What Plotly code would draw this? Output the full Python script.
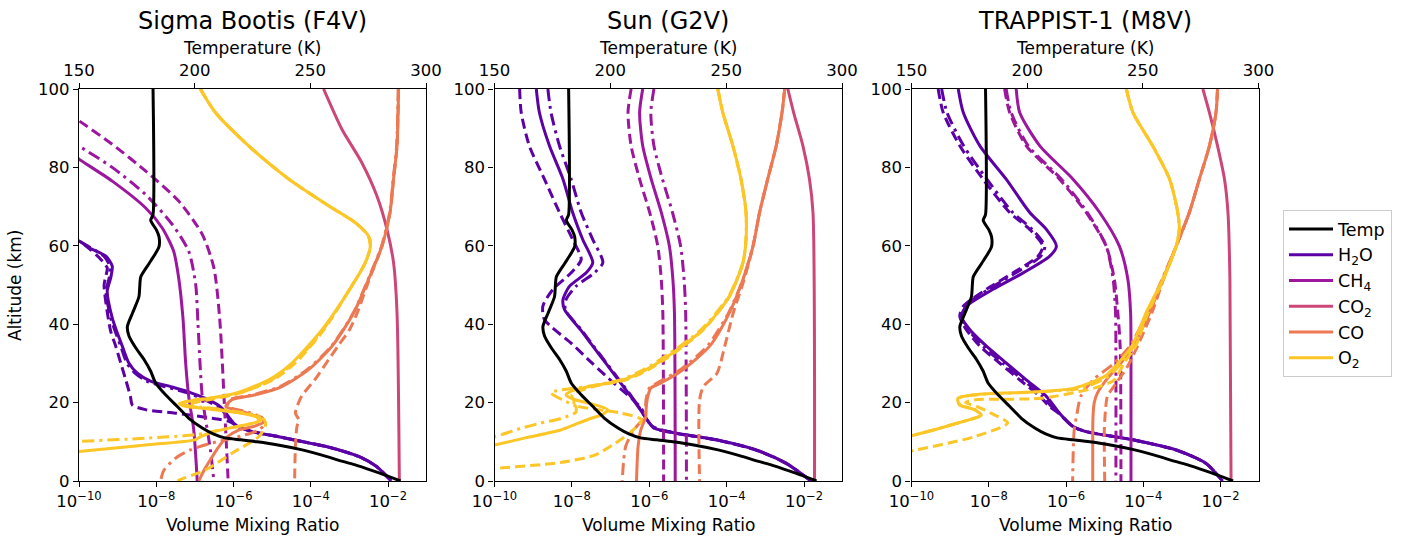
import plotly.graph_objects as go

# ---------------- data (altitude km, log10 volume mixing ratio) ----------------
TEMP_ALT = [100, 68, 66.5, 64, 62.3, 59.8, 57.5, 55.5, 52.1, 47, 42.8, 39.4, 37, 34, 31, 28, 25, 22, 19,
            16, 13.5, 12, 11, 10.5, 10, 9.2, 8, 6.6, 5, 4, 2, 0]
TEMP_K = [182.0, 182.0, 181.0, 183.5, 184.6, 184.6, 182.5, 180.3, 176.7, 175.9, 173.1, 170.9, 171.6, 174.5,
          178.1, 181.0, 183.1, 187.4, 192.5, 197.5, 203.3, 208, 213, 220, 227, 236, 246, 255, 264, 270, 280, 289]

# Panel 1 : Sigma Bootis (F4V)
P1_H2O_ALT = [62.5, 61.2, 59.5, 57.4, 54.8, 51.8, 48.4, 41.6, 37.8, 34.4, 30.1, 27.5, 25.5, 24, 22.5, 20.5,
              18.6, 16, 14.3, 12.6, 11.3, 10, 8.8, 6.2, 3.7, 0]
P1_H2O_SOLID = [-10.6, -10.0, -9.74, -9.31, -9.14, -9.18, -9.27, -9.14, -9.01, -8.88, -8.71, -8.49, -8.15,
                -7.6, -7.1, -6.6, -6.3, -6.1, -5.95, -5.52, -4.83, -4.2, -3.6, -2.75, -2.3, -1.92]
P1_H2O_DASHDOT = [-10.6, -10.0, -9.70, -9.36, -9.20, -9.22, -9.30, -9.18, -9.05, -8.92, -8.76, -8.55, -8.25,
                  -7.75, -7.2, -6.7, -6.35, -6.12, -5.96, -5.52, -4.83, -4.2, -3.6, -2.75, -2.3, -1.92]
P1_H2O_DASH_ALT = [62.5, 61.2, 59, 57, 54.4, 52.5, 50.1, 45.9, 38.2, 34.4, 30.1, 25.8, 21.6, 19.4, 18.2,
                   17.3, 16.0, 15.2, 13.9, 12.6, 11.3, 10, 8.8, 6.2, 3.7, 0]
P1_H2O_DASH = [-10.6, -10.0, -9.7, -9.48, -9.27, -9.3, -9.35, -9.31, -9.18, -9.05, -8.92, -8.79, -8.67,
               -8.62, -8.28, -7.5, -6.55, -6.12, -5.87, -5.52, -4.83, -4.2, -3.6, -2.75, -2.3, -1.92]

P1_CH4_SOLID_ALT = [84, 82.1, 76.5, 69.7, 64.6, 58.6, 51.8, 41.6, 30.1, 21.5, 13, 0]
P1_CH4_SOLID = [-10.27, -10.0, -9.14, -8.28, -7.85, -7.55, -7.42, -7.31, -7.24, -7.16, -7.03, -6.94]
P1_CH4_DASHDOT_ALT = [87.5, 85.5, 80, 73.1, 65.5, 58.6, 50.1, 39.9, 21.5, 8, 0]
P1_CH4_DASHDOT = [-10.27, -10.0, -9.14, -8.28, -7.59, -7.16, -6.98, -6.92, -6.81, -6.6, -6.51]
P1_CH4_DASH_ALT = [94, 91.9, 85.9, 79.1, 71.4, 62.9, 54.4, 41.6, 18, 0]
P1_CH4_DASH = [-10.3, -10.0, -9.14, -8.28, -7.42, -6.81, -6.51, -6.36, -6.23, -6.14]

P1_CO2_ALT = [100, 89.8, 81.2, 72.7, 64.2, 55.7, 42.9, 0]
P1_CO2 = [-3.67, -3.20, -2.68, -2.29, -2.03, -1.86, -1.77, -1.71]

P1_CO_SOLID_ALT = [100, 85.5, 77, 68.5, 59.9, 51.4, 42.9, 34.4, 28.4, 24.1, 22, 20.7, 19, 17.5, 16, 15, 14,
                   13, 11, 8.5, 6.2, 3, 0]
P1_CO_SOLID = [-1.73, -1.77, -1.86, -1.95, -2.16, -2.51, -2.89, -3.45, -4.06, -4.75, -5.43, -6.05, -6.2,
               -5.7, -5.3, -5.22, -5.45, -5.87, -6.2, -6.4, -6.55, -6.75, -6.9]
P1_CO_DASHDOT_ALT = [100, 85.5, 77, 68.5, 59.9, 51.4, 42.9, 34.4, 28.4, 24.1, 22, 20.7, 19, 17.5, 16, 14.5,
                     13, 11.5, 9.6, 8, 6.2, 2.8, 0]
P1_CO_DASHDOT = [-1.74, -1.78, -1.87, -1.96, -2.17, -2.52, -2.9, -3.47, -4.1, -4.8, -5.5, -6.1, -6.15, -5.6,
                 -5.25, -5.2, -5.35, -5.8, -6.6, -7.1, -7.45, -7.8, -7.89]
P1_CO_DASH_ALT = [100, 85.5, 77, 68.5, 59.9, 51.4, 42.9, 38.6, 34.4, 30.1, 25.8, 21.6, 17.3, 15.6, 13.9,
                  8.8, 0]
P1_CO_DASH = [-1.73, -1.77, -1.86, -1.95, -2.16, -2.49, -2.8, -3.0, -3.3, -3.6, -3.9, -4.24, -4.4, -4.31,
              -4.36, -4.4, -4.42]

P1_O2_SOLID_ALT = [100, 94, 85.5, 77, 70.2, 65.9, 62.5, 59.9, 55.7, 47.1, 38.6, 30.1, 25.8, 22.4, 21, 20.3,
                   19.8, 19.2, 18.3, 17.3, 16.3, 15.3, 14.3, 13.3, 12.3, 11.3, 10.5, 9.2, 8.3, 7.5, 6.8]
P1_O2_SOLID = [-6.86, -6.47, -5.61, -4.57, -3.54, -2.85, -2.51, -2.46, -2.59, -3.11, -3.71, -4.49, -5.09,
               -5.95, -6.7, -7.2, -7.4, -7.3, -6.6, -5.8, -5.4, -5.35, -5.7, -6.2, -6.6, -6.85, -7.0, -8.28,
               -9.2, -10.0, -10.8]
P1_O2_DASHDOT_ALT = [100, 94, 85.5, 77, 70.2, 65.9, 62.5, 59.9, 55.7, 47.1, 38.6, 30.1, 25.8, 22.4, 21.2,
                     20.5, 20, 19.3, 18.5, 17.5, 16.5, 15.5, 14.5, 13.5, 12.5, 11.8, 10.9, 10.1, 9.5]
P1_O2_DASHDOT = [-6.86, -6.47, -5.61, -4.57, -3.54, -2.85, -2.51, -2.46, -2.59, -3.11, -3.68, -4.44, -5.02,
                 -5.85, -6.6, -7.1, -7.35, -7.2, -6.5, -5.8, -5.35, -5.3, -5.6, -6.1, -6.6, -6.99, -8.28,
                 -10.0, -10.8]
P1_O2_DASH_ALT = [100, 94, 85.5, 77, 70.2, 65.9, 62.5, 59.9, 55.7, 47.1, 38.6, 30.1, 25.8, 22.4, 21, 20,
                  19.2, 18.5, 17.5, 16.5, 15.5, 13.9, 11.3, 7.1, 2.8, 0.2, 0]
P1_O2_DASH = [-6.86, -6.47, -5.61, -4.57, -3.54, -2.85, -2.51, -2.46, -2.59, -3.11, -3.66, -4.4, -4.98,
              -5.85, -6.5, -7.0, -7.2, -6.6, -5.9, -5.4, -5.2, -5.18, -5.35, -6.04, -6.73, -7.42, -7.45]

# Panel 2 : Sun (G2V)
P2_H2O_ALT = [100, 94, 85.5, 77, 68.5, 61.6, 55.7, 53.1, 49.7, 46.3, 43.7, 38.6, 34.4, 30, 25.8, 21.6, 18,
              15.5, 13.5, 12.2, 10.5, 7.9, 4.5, 0]
P2_H2O_SOLID = [-8.92, -8.84, -8.58, -8.23, -7.98, -7.72, -7.46, -7.63, -8.06, -8.23, -8.19, -7.78, -7.46,
                -7.12, -6.8, -6.48, -6.22, -6.05, -5.88, -5.31, -4.27, -3.24, -2.46, -1.82]
P2_H2O_DASHDOT = [-8.62, -8.54, -8.32, -8.02, -7.76, -7.46, -7.20, -7.42, -7.89, -8.15, -8.17, -7.76, -7.44,
                  -7.10, -6.78, -6.46, -6.21, -6.05, -5.88, -5.31, -4.27, -3.24, -2.46, -1.82]
P2_H2O_DASH_ALT = [100, 94, 85.5, 77, 68.5, 61.6, 56.5, 53.1, 48.9, 44.6, 41.2, 35, 30, 25, 21, 18.6, 16,
                   13.9, 12.2, 10.5, 7.9, 4.5, 0]
P2_H2O_DASH = [-9.35, -9.31, -9.10, -8.71, -8.32, -7.98, -7.76, -8.02, -8.49, -8.75, -8.71, -8.0, -7.47,
               -6.92, -6.45, -6.21, -6.08, -5.91, -5.31, -4.27, -3.24, -2.46, -1.82]

P2_CH4_ALT = [100, 94, 85.5, 77, 68.5, 59.9, 51.4, 42.9, 0]
P2_CH4_SOLID = [-6.17, -6.25, -6.17, -5.95, -5.69, -5.48, -5.39, -5.35, -5.33]
P2_CH4_DASHDOT = [-5.88, -5.96, -5.88, -5.66, -5.40, -5.19, -5.10, -5.06, -5.04]
P2_CH4_DASH = [-6.47, -6.55, -6.47, -6.25, -5.99, -5.78, -5.69, -5.65, -5.63]

P2_CO2_ALT = [100, 94, 85.5, 77, 68.5, 0]
P2_CO2 = [-2.42, -2.27, -2.03, -1.86, -1.77, -1.73]

P2_CO_ALT = [100, 94, 85.5, 77, 68.5, 59.9, 51.4, 42.9, 34.4, 28.4, 25, 23.7, 21, 18.5, 16.4, 13, 8.8, 0]
P2_CO_SOLID = [-2.5, -2.57, -2.72, -2.94, -3.15, -3.32, -3.58, -3.93, -4.44, -5.13, -5.7, -5.96, -6.05,
               -6.08, -6.09, -6.22, -6.29, -6.33]
P2_CO_DASHDOT = [-2.5, -2.57, -2.72, -2.94, -3.15, -3.32, -3.58, -3.95, -4.5, -5.2, -5.8, -6.0, -6.08,
                 -6.1, -6.12, -6.40, -6.61, -6.70]
P2_CO_DASH_ALT = [100, 94, 85.5, 77, 68.5, 59.9, 51.4, 42.9, 34.4, 27.5, 24.1, 20.7, 0]
P2_CO_DASH = [-2.5, -2.57, -2.72, -2.94, -3.15, -3.32, -3.55, -3.83, -4.05, -4.25, -4.6, -4.70, -4.70]

P2_O2_SOLID_ALT = [100, 94, 85.5, 77, 68.5, 61.6, 55.7, 47.1, 38.6, 32.7, 28.4, 25.8, 24.1, 23, 22, 21,
                   19.5, 18.2, 17, 16, 14.5, 13, 11, 9.2, 8]
P2_O2_SOLID = [-4.23, -4.10, -3.84, -3.63, -3.50, -3.50, -3.58, -3.93, -4.62, -5.39, -6.08, -6.68, -7.55,
               -8.0, -8.15, -8.0, -7.43, -7.08, -7.2, -7.5, -7.9, -8.29, -9.2, -10.0, -10.6]
P2_O2_DASHDOT_ALT = [100, 94, 85.5, 77, 68.5, 61.6, 55.7, 47.1, 38.6, 32.7, 28.4, 25.8, 24.1, 23.2, 22.5,
                     21.5, 20.5, 19, 17.5, 16, 14.7, 13.5, 11.3, 10.5]
P2_O2_DASHDOT = [-4.23, -4.10, -3.84, -3.63, -3.50, -3.50, -3.58, -3.95, -4.66, -5.45, -6.15, -6.75, -7.6,
                 -8.3, -8.55, -8.4, -8.2, -7.9, -7.9, -8.27, -8.84, -9.3, -10.0, -10.5]
P2_O2_DASH_ALT = [100, 94, 85.5, 77, 68.5, 61.6, 55.7, 47.1, 38.6, 32.7, 28.4, 25.8, 24.1, 22, 20.5, 19.4,
                  17.3, 15.6, 12.2, 9.5, 6.6, 4.7, 3.2, 2.8]
P2_O2_DASH = [-4.23, -4.10, -3.84, -3.63, -3.50, -3.50, -3.58, -3.93, -4.6, -5.35, -6.02, -6.6, -7.45,
              -8.0, -7.95, -7.93, -6.72, -6.2, -6.51, -6.9, -7.41, -8.3, -10.0, -10.5]

# Panel 3 : TRAPPIST-1 (M8V)
P3_H2O_SOLID_ALT = [100, 94, 85.5, 77, 68.5, 64.2, 59.9, 57.3, 53.1, 48.9, 44.6, 42, 38.6, 34.4, 30.1,
                    25.8, 21.6, 17.3, 13.9, 12.6, 10.5, 7.9, 4.5, 0]
P3_H2O_SOLID = [-8.79, -8.66, -8.23, -7.55, -6.94, -6.51, -6.25, -6.43, -7.11, -7.89, -8.58, -8.71, -8.49,
                -8.06, -7.55, -7.03, -6.51, -6.17, -5.82, -5.48, -4.27, -3.15, -2.38, -1.95]
P3_H2O_DASH_ALT = [100, 94, 85.5, 77, 68.5, 64.2, 59.9, 57.3, 53.1, 48.9, 44.6, 42, 38.6, 34.4, 30.1, 25.8,
                   21.6, 19, 17.3, 13.9, 12.6, 10.5, 7.9, 4.5, 0]
P3_H2O_DASH = [-9.31, -9.18, -8.75, -8.15, -7.46, -6.94, -6.60, -6.73, -7.37, -8.06, -8.66, -8.75, -8.58,
               -8.23, -7.72, -7.20, -6.68, -6.43, -6.2, -5.82, -5.48, -4.27, -3.15, -2.38, -1.95]
P3_H2O_DASHDOT = [-9.22, -9.08, -8.65, -8.05, -7.38, -6.88, -6.55, -6.66, -7.3, -8.0, -8.62, -8.72, -8.53,
                  -8.15, -7.64, -7.12, -6.6, -6.38, -6.18, -5.82, -5.48, -4.27, -3.15, -2.38, -1.95]

P3_CH4_ALT = [100, 94, 85.5, 77, 68.5, 59.9, 51.4, 42.9, 34.4, 0]
P3_CH4_SOLID = [-7.29, -7.2, -6.68, -5.82, -5.13, -4.62, -4.40, -4.33, -4.32, -4.32]
P3_CH4_DASHDOT = [-7.55, -7.42, -6.98, -6.12, -5.45, -4.96, -4.78, -4.72, -4.71, -4.71]
P3_CH4_DASH = [-7.59, -7.46, -7.03, -6.17, -5.48, -4.96, -4.75, -4.66, -4.6, -4.58]

P3_CO2_ALT = [100, 94, 85.5, 77, 68.5, 51.4, 0]
P3_CO2 = [-2.46, -2.29, -2.08, -1.90, -1.81, -1.76, -1.73]

P3_CO_SOLID_ALT = [100, 94, 85.5, 77, 68.5, 59.9, 51.4, 42.9, 34.4, 30.1, 25.8, 22.4, 20, 17, 13, 0]
P3_CO_SOLID = [-2.08, -2.12, -2.29, -2.55, -2.81, -3.15, -3.50, -3.84, -4.27, -4.58, -4.96, -5.19, -5.27,
               -5.3, -5.31, -5.31]
P3_CO_DASHDOT_ALT = [100, 94, 85.5, 77, 68.5, 59.9, 51.4, 42.9, 34.4, 30.1, 25.8, 21.6, 17, 13, 0]
P3_CO_DASHDOT = [-2.08, -2.12, -2.29, -2.55, -2.81, -3.15, -3.52, -3.9, -4.35, -4.75, -5.3, -5.62, -5.72,
                 -5.79, -5.83]
P3_CO_DASH_ALT = [100, 94, 85.5, 77, 68.5, 59.9, 51.4, 42.9, 34.4, 29.2, 25, 21.6, 18, 13, 0]
P3_CO_DASH = [-2.08, -2.12, -2.29, -2.55, -2.81, -3.15, -3.48, -3.78, -4.15, -4.41, -4.7, -4.93, -4.98,
              -5.01, -5.0]

P3_O2_ALT = [100, 94, 85.5, 77, 68.5, 64.2, 59.9, 51.4, 42.9, 34.4, 30.1, 26.7, 23.7, 22.8, 22.0, 21.1,
             19.4, 18.2, 16.8, 14.8, 11.3, 10.5]
P3_O2_SOLID = [-4.44, -4.27, -3.76, -3.32, -3.11, -3.07, -3.15, -3.50, -3.93, -4.3, -4.65, -5.0, -5.79,
               -6.65, -8.37, -8.80, -8.76, -8.37, -8.2, -8.8, -10.1, -10.5]
P3_O2_DASHDOT = [-4.44, -4.27, -3.76, -3.32, -3.11, -3.07, -3.15, -3.49, -3.9, -4.25, -4.58, -4.9, -5.6,
                 -6.55, -8.3, -8.78, -8.74, -8.35, -8.2, -8.8, -10.1, -10.5]
P3_O2_DASH_ALT = [100, 94, 85.5, 77, 68.5, 64.2, 59.9, 51.4, 42.9, 34.4, 30.1, 25.8, 23.7, 21.1, 20.7, 20.0,
                  19.0, 17.3, 14.8, 11.3, 7.5, 6.8]
P3_O2_DASH = [-4.44, -4.27, -3.76, -3.32, -3.11, -3.07, -3.15, -3.48, -3.88, -4.2, -4.5, -4.75, -5.27,
              -6.65, -8.37, -8.6, -8.3, -7.94, -7.51, -8.37, -10.1, -10.5]

PANEL_TITLES = ["Sigma Bootis (F4V)", "Sun (G2V)", "TRAPPIST-1 (M8V)"]
SPECIES = ["H2O", "CH4", "CO2", "CO", "O2"]
SPECIES_LABELS = ["H<sub>2</sub>O", "CH<sub>4</sub>", "CO<sub>2</sub>", "CO", "O<sub>2</sub>"]
VMR_TICKS = [1e-10, 1e-8, 1e-6, 1e-4, 1e-2]
VMR_TICKTEXT = ["10<sup>\u221210</sup>", "10<sup>\u22128</sup>", "10<sup>\u22126</sup>",
                "10<sup>\u22124</sup>", "10<sup>\u22122</sup>"]
TEMP_TICKS = [150, 200, 250, 300]
ALT_TICKS = [0, 20, 40, 60, 80, 100]

# ---------------- styling ----------------
COLORS = {"H2O": "#5c01a6", "CH4": "#9c179e", "CO2": "#cc4778", "CO": "#ed7953", "O2": "#fcc627"}
DASH = {"solid": "solid", "dashdot": "12px,5px,3px,5px", "dash": "10px,5px"}
FONT = "DejaVu Sans, Liberation Sans, sans-serif"
LW = 3

panels = [
    {
        "H2O": [("solid", P1_H2O_ALT, P1_H2O_SOLID), ("dashdot", P1_H2O_ALT, P1_H2O_DASHDOT),
                ("dash", P1_H2O_DASH_ALT, P1_H2O_DASH)],
        "CH4": [("solid", P1_CH4_SOLID_ALT, P1_CH4_SOLID), ("dashdot", P1_CH4_DASHDOT_ALT, P1_CH4_DASHDOT),
                ("dash", P1_CH4_DASH_ALT, P1_CH4_DASH)],
        "CO2": [("solid", P1_CO2_ALT, P1_CO2)],
        "CO": [("solid", P1_CO_SOLID_ALT, P1_CO_SOLID), ("dashdot", P1_CO_DASHDOT_ALT, P1_CO_DASHDOT),
               ("dash", P1_CO_DASH_ALT, P1_CO_DASH)],
        "O2": [("solid", P1_O2_SOLID_ALT, P1_O2_SOLID), ("dashdot", P1_O2_DASHDOT_ALT, P1_O2_DASHDOT),
               ("dash", P1_O2_DASH_ALT, P1_O2_DASH)],
    },
    {
        "H2O": [("solid", P2_H2O_ALT, P2_H2O_SOLID), ("dashdot", P2_H2O_ALT, P2_H2O_DASHDOT),
                ("dash", P2_H2O_DASH_ALT, P2_H2O_DASH)],
        "CH4": [("solid", P2_CH4_ALT, P2_CH4_SOLID), ("dashdot", P2_CH4_ALT, P2_CH4_DASHDOT),
                ("dash", P2_CH4_ALT, P2_CH4_DASH)],
        "CO2": [("solid", P2_CO2_ALT, P2_CO2)],
        "CO": [("solid", P2_CO_ALT, P2_CO_SOLID), ("dashdot", P2_CO_ALT, P2_CO_DASHDOT),
               ("dash", P2_CO_DASH_ALT, P2_CO_DASH)],
        "O2": [("solid", P2_O2_SOLID_ALT, P2_O2_SOLID), ("dashdot", P2_O2_DASHDOT_ALT, P2_O2_DASHDOT),
               ("dash", P2_O2_DASH_ALT, P2_O2_DASH)],
    },
    {
        "H2O": [("solid", P3_H2O_SOLID_ALT, P3_H2O_SOLID), ("dashdot", P3_H2O_DASH_ALT, P3_H2O_DASHDOT),
                ("dash", P3_H2O_DASH_ALT, P3_H2O_DASH)],
        "CH4": [("solid", P3_CH4_ALT, P3_CH4_SOLID), ("dashdot", P3_CH4_ALT, P3_CH4_DASHDOT),
                ("dash", P3_CH4_ALT, P3_CH4_DASH)],
        "CO2": [("solid", P3_CO2_ALT, P3_CO2)],
        "CO": [("solid", P3_CO_SOLID_ALT, P3_CO_SOLID), ("dashdot", P3_CO_DASHDOT_ALT, P3_CO_DASHDOT),
               ("dash", P3_CO_DASH_ALT, P3_CO_DASH)],
        "O2": [("solid", P3_O2_ALT, P3_O2_SOLID), ("dashdot", P3_O2_ALT, P3_O2_DASHDOT),
               ("dash", P3_O2_DASH_ALT, P3_O2_DASH)],
    },
]

W, H = 1403, 539
X_DOMAINS_PX = [(79, 426), (494.5, 842), (911.5, 1258.5)]
Y_DOMAIN_PX = (89, 481)

fig = go.Figure()

for i, panel in enumerate(panels):
    xb = "x" if i == 0 else f"x{i + 1}"
    yb = "y" if i == 0 else f"y{i + 1}"
    xt = f"x{i + 4}"
    for si, sp in enumerate(SPECIES):
        for style, alts, logs in panel[sp]:
            show = (i == 0 and style == "solid")
            fig.add_trace(go.Scatter(
                x=[10 ** v for v in logs], y=alts, mode="lines",
                line=dict(color=COLORS[sp], width=LW, dash=DASH[style], shape="spline", smoothing=0.7),
                name=SPECIES_LABELS[si], showlegend=show, legendrank=si + 2, legendgroup=sp,
                xaxis=xb, yaxis=yb, hoverinfo="skip"))
    fig.add_trace(go.Scatter(
        x=TEMP_K, y=TEMP_ALT, mode="lines",
        line=dict(color="black", width=LW, shape="spline", smoothing=0.6),
        name="Temp", showlegend=(i == 0), legendrank=1, legendgroup="Temp",
        xaxis=xt, yaxis=yb, hoverinfo="skip"))

axis_common = dict(showgrid=False, zeroline=False, showline=True, linecolor="black", linewidth=1.2,
                   ticks="outside", ticklen=5, tickwidth=1.2, tickcolor="black", automargin=False,
                   tickfont=dict(family=FONT, size=16.5, color="black"))

yd = [(H - Y_DOMAIN_PX[1]) / H, (H - Y_DOMAIN_PX[0]) / H]
layout = dict(width=W, height=H, margin=dict(l=0, r=0, t=0, b=0, autoexpand=False),
              paper_bgcolor="white", plot_bgcolor="white", font=dict(family=FONT, color="black"))
annotations = []
for i in range(3):
    sfx = "" if i == 0 else str(i + 1)
    x0, x1 = X_DOMAINS_PX[i]
    dom = [x0 / W, x1 / W]
    layout["xaxis" + sfx] = dict(axis_common, type="log", domain=dom, range=[-10, -1.02],
                                 tickvals=VMR_TICKS, ticktext=VMR_TICKTEXT, mirror=True,
                                 anchor="y" + sfx)
    layout["yaxis" + sfx] = dict(axis_common, domain=yd, range=[0, 100], tickvals=ALT_TICKS,
                                 mirror=True, anchor="x" + sfx)
    layout[f"xaxis{i + 4}"] = dict(axis_common, overlaying="x" + sfx, side="top", range=[150, 300],
                                   tickvals=TEMP_TICKS, anchor="y" + sfx, showline=False)
    cx = (x0 + x1) / 2 / W
    annotations.append(dict(text=PANEL_TITLES[i], x=cx, y=(H - 20.5) / H, xref="paper", yref="paper",
                            showarrow=False, font=dict(family=FONT, size=24, color="black"),
                            xanchor="center", yanchor="middle"))
    annotations.append(dict(text="Temperature (K)", x=cx, y=(H - 47.5) / H, xref="paper", yref="paper",
                            showarrow=False, font=dict(family=FONT, size=17, color="black"),
                            xanchor="center", yanchor="middle"))
    annotations.append(dict(text="Volume Mixing Ratio", x=cx, y=(H - 525) / H, xref="paper", yref="paper",
                            showarrow=False, font=dict(family=FONT, size=17, color="black"),
                            xanchor="center", yanchor="middle"))
annotations.append(dict(text="Altitude (km)", x=15 / W, y=(H - 285) / H, xref="paper", yref="paper",
                        showarrow=False, textangle=-90, font=dict(family=FONT, size=17, color="black"),
                        xanchor="center", yanchor="middle"))
layout["annotations"] = annotations
layout["legend"] = dict(x=1283 / W, y=(H - 210) / H, xanchor="left", yanchor="top",
                        bgcolor="white", bordercolor="#cccccc", borderwidth=1, itemwidth=44,
                        tracegroupgap=1,
                        font=dict(family=FONT, size=17.5, color="black"), traceorder="normal")
fig.update_layout(**layout)

fig.write_html("out.html", config={"displayModeBar": False},
               post_script="document.body.style.margin='0';document.body.style.padding='0';")
